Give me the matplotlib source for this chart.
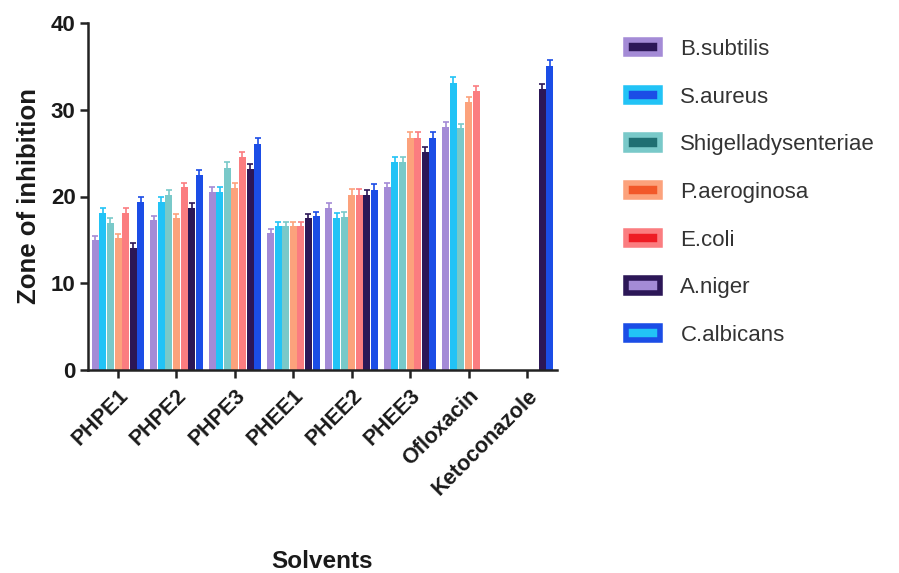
import matplotlib
matplotlib.use("Agg")
import matplotlib.pyplot as plt
import numpy as np
from matplotlib.patches import Rectangle

plt.rcParams['font.family'] = ['Liberation Sans', 'DejaVu Sans']

categories = ["PHPE1", "PHPE2", "PHPE3", "PHEE1", "PHEE2", "PHEE3", "Ofloxacin", "Ketoconazole"]
series = ["B.subtilis", "S.aureus", "Shigelladysenteriae", "P.aeroginosa", "E.coli", "A.niger", "C.albicans"]

b_subtilis = [15.0, 17.3, 20.5, 15.8, 18.7, 21.1, 28.0, 0]
s_aureus = [18.1, 19.4, 20.5, 16.6, 17.5, 24.0, 33.1, 0]
shigella = [16.9, 20.2, 23.3, 16.6, 17.6, 24.0, 27.9, 0]
p_aeroginosa = [15.2, 17.5, 21.0, 16.6, 20.2, 26.7, 30.9, 0]
e_coli = [18.1, 21.1, 24.5, 16.6, 20.2, 26.7, 32.2, 0]
a_niger = [14.1, 18.7, 23.2, 17.5, 20.2, 25.1, 0, 32.4]
c_albicans = [19.4, 22.5, 26.1, 17.7, 20.8, 26.8, 0, 35.0]

err_b = [0.5, 0.5, 0.6, 0.5, 0.5, 0.5, 0.6, 0]
err_s = [0.6, 0.6, 0.6, 0.5, 0.6, 0.6, 0.7, 0]
err_sh = [0.6, 0.6, 0.7, 0.5, 0.6, 0.6, 0.5, 0]
err_p = [0.5, 0.5, 0.6, 0.5, 0.7, 0.7, 0.6, 0]
err_e = [0.6, 0.5, 0.6, 0.5, 0.7, 0.7, 0.5, 0]
err_a = [0.5, 0.5, 0.6, 0.5, 0.6, 0.6, 0, 0.6]
err_c = [0.6, 0.6, 0.6, 0.5, 0.6, 0.6, 0, 0.7]

values = [b_subtilis, s_aureus, shigella, p_aeroginosa, e_coli, a_niger, c_albicans]
errors = [err_b, err_s, err_sh, err_p, err_e, err_a, err_c]

fills = ["#a48bd6", "#22c3f6", "#79c9c9", "#fca27c", "#fb7d80", "#2c1757", "#1b4de6"]
darks = ["#2c1757", "#1b4de6", "#1f6f72", "#f2582a", "#ee1c24", "#a48bd6", "#22c3f6"]

fig = plt.figure(figsize=(8.99, 5.73), dpi=100)
ax = fig.add_axes([88/899, (573-370)/573, (557-88)/899, (370-23)/573])

x = np.arange(len(categories))
w = 0.13
for i, (vals, errs) in enumerate(zip(values, errors)):
    pos = x + (i - 3) * w
    v = np.array(vals, dtype=float)
    e = np.array(errs, dtype=float)
    ax.bar(pos, v, width=w * 0.92, color=fills[i], edgecolor='none', zorder=2)
    mask = v > 0
    ax.errorbar(pos[mask], v[mask], yerr=e[mask], fmt='none', ecolor=fills[i],
                elinewidth=1.2, capsize=2.2, capthick=1.2, zorder=3)

ax.set_xlim(-0.514, 7.514)
ax.set_ylim(0, 40)
ax.set_yticks([0, 10, 20, 30, 40])
ax.set_xticks(x)
ax.set_xticklabels(categories, rotation=45, ha='right', rotation_mode='anchor',
                   fontsize=15.5, fontweight='bold', color='#1a1a1a')
for lab in ax.get_yticklabels():
    lab.set_fontsize(16)
    lab.set_fontweight('bold')
    lab.set_color('#1a1a1a')
ax.spines['top'].set_visible(False)
ax.spines['right'].set_visible(False)
ax.spines['left'].set_linewidth(1.8)
ax.spines['bottom'].set_linewidth(1.8)
ax.spines['left'].set_color('#222222')
ax.spines['bottom'].set_color('#222222')
ax.tick_params(axis='both', width=1.8, length=6, color='#222222')
ax.tick_params(axis='x', pad=5)
ax.tick_params(axis='y', pad=3)

ax.set_ylabel("Zone of inhibition", fontsize=18.5, fontweight='bold', labelpad=7,
              color='#1a1a1a')
fig.text(322/899, 1 - 562/573, "Solvents", fontsize=17.5, fontweight='bold',
         ha='center', va='center', color='#1a1a1a')

handles = [Rectangle((0, 0), 1, 1, facecolor=darks[i], edgecolor=fills[i], linewidth=4)
           for i in range(len(series))]
leg = fig.legend(handles, series, loc='upper left', bbox_to_anchor=(606/899, 1 - 19/573),
                 frameon=False, fontsize=16, handlelength=1.55, handleheight=0.6,
                 labelspacing=1.2, handletextpad=0.9)
for t in leg.get_texts():
    t.set_color('#333333')

fig.savefig("out.png", dpi=100)
